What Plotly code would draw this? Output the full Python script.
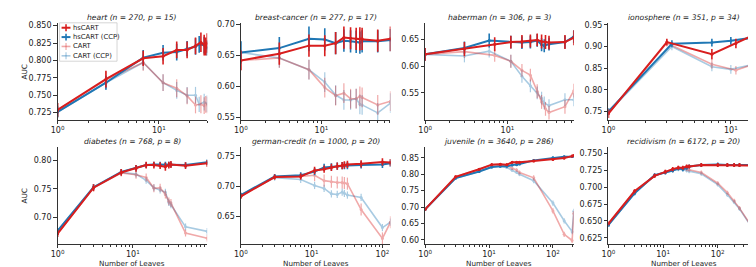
import math
import plotly.graph_objects as go

# ---------------- data ----------------
heart_x = [1, 3, 7, 11, 15, 19, 23, 26, 28, 29, 30]
heart_hs = [0.729, 0.773, 0.803, 0.806, 0.815, 0.815, 0.821, 0.826, 0.822, 0.820, 0.825]
heart_hs_err = [0.010, 0.012, 0.011, 0.012, 0.012, 0.012, 0.012, 0.014, 0.015, 0.013, 0.014]
heart_cart = [0.729, 0.772, 0.797, 0.768, 0.760, 0.749, 0.736, 0.737, 0.735, 0.737, 0.736]
heart_cart_err = [0.010, 0.012, 0.012, 0.012, 0.013, 0.012, 0.012, 0.013, 0.012, 0.012, 0.012]
heart_xccp = [1, 3, 7, 11, 15, 19, 23, 25, 28, 30]
heart_hsccp = [0.726, 0.768, 0.804, 0.811, 0.812, 0.817, 0.820, 0.823, 0.822, 0.818]
heart_hsccp_err = [0.008, 0.010, 0.011, 0.011, 0.012, 0.011, 0.012, 0.012, 0.012, 0.011]
heart_cartccp = [0.726, 0.768, 0.797, 0.768, 0.757, 0.750, 0.750, 0.737, 0.740, 0.738]
heart_cartccp_err = [0.008, 0.010, 0.011, 0.012, 0.012, 0.012, 0.012, 0.011, 0.012, 0.012]

breast_x = [1, 3, 7, 11, 15, 19, 23, 27, 30, 32, 50, 72]
breast_hs = [0.642, 0.653, 0.666, 0.666, 0.670, 0.679, 0.678, 0.677, 0.677, 0.677, 0.674, 0.677]
breast_hs_err = [0.016, 0.018, 0.018, 0.017, 0.018, 0.018, 0.018, 0.018, 0.019, 0.018, 0.018, 0.020]
breast_cart = [0.642, 0.646, 0.627, 0.598, 0.585, 0.589, 0.580, 0.580, 0.584, 0.582, 0.570, 0.576]
breast_cart_err = [0.016, 0.016, 0.016, 0.016, 0.016, 0.016, 0.016, 0.016, 0.016, 0.016, 0.016, 0.016]
breast_xccp = [1, 3, 7, 11, 15, 19, 23, 27, 30, 32, 50, 72]
breast_hsccp = [0.655, 0.662, 0.677, 0.676, 0.670, 0.674, 0.673, 0.672, 0.671, 0.673, 0.673, 0.675]
breast_hsccp_err = [0.018, 0.018, 0.020, 0.018, 0.018, 0.018, 0.018, 0.018, 0.018, 0.018, 0.018, 0.018]
breast_cartccp = [0.655, 0.646, 0.627, 0.607, 0.586, 0.578, 0.578, 0.580, 0.571, 0.570, 0.557, 0.573]
breast_cartccp_err = [0.018, 0.016, 0.016, 0.016, 0.016, 0.016, 0.016, 0.016, 0.016, 0.016, 0.016, 0.016]

haber_x = [1, 3, 7, 11, 15, 19, 23, 26, 29, 32, 50, 64]
haber_hs = [0.622, 0.632, 0.641, 0.645, 0.646, 0.647, 0.649, 0.646, 0.645, 0.644, 0.645, 0.653]
haber_hs_err = [0.012, 0.013, 0.013, 0.012, 0.012, 0.012, 0.012, 0.013, 0.013, 0.013, 0.013, 0.014]
haber_cart = [0.622, 0.627, 0.620, 0.609, 0.592, 0.583, 0.553, 0.533, 0.520, 0.513, 0.524, 0.554]
haber_cart_err = [0.012, 0.012, 0.012, 0.012, 0.012, 0.012, 0.013, 0.013, 0.013, 0.013, 0.013, 0.013]
haber_xccp = [1, 3, 6, 11, 15, 19, 23, 26, 28, 32, 50, 64]
haber_hsccp = [0.622, 0.634, 0.648, 0.645, 0.644, 0.645, 0.648, 0.640, 0.638, 0.641, 0.645, 0.655]
haber_hsccp_err = [0.012, 0.012, 0.013, 0.012, 0.012, 0.012, 0.012, 0.012, 0.012, 0.012, 0.012, 0.012]
haber_cartccp = [0.622, 0.619, 0.628, 0.609, 0.581, 0.563, 0.550, 0.540, 0.531, 0.526, 0.537, 0.537]
haber_cartccp_err = [0.012, 0.012, 0.012, 0.012, 0.012, 0.012, 0.012, 0.012, 0.012, 0.012, 0.012, 0.012]

iono_x = [1, 3, 7, 11, 15, 17]
iono_hs = [0.745, 0.910, 0.882, 0.907, 0.925, 0.930]
iono_hs_err = [0.010, 0.008, 0.012, 0.011, 0.010, 0.010]
iono_cart = [0.745, 0.908, 0.859, 0.845, 0.858, 0.870]
iono_cart_err = [0.010, 0.008, 0.010, 0.010, 0.010, 0.010]
iono_xccp = [1, 3.3, 7, 10, 15, 17]
iono_hsccp = [0.750, 0.906, 0.909, 0.913, 0.920, 0.924]
iono_hsccp_err = [0.008, 0.008, 0.009, 0.009, 0.009, 0.009]
iono_cartccp = [0.748, 0.900, 0.853, 0.847, 0.858, 0.880]
iono_cartccp_err = [0.008, 0.009, 0.010, 0.010, 0.010, 0.010]

diab_x = [1, 3, 7, 11, 15, 19, 23, 27, 30, 32, 50, 97]
diab_hs = [0.671, 0.752, 0.779, 0.786, 0.792, 0.792, 0.791, 0.789, 0.792, 0.793, 0.791, 0.795]
diab_hs_err = [0.006, 0.006, 0.006, 0.006, 0.006, 0.006, 0.006, 0.007, 0.006, 0.006, 0.006, 0.006]
diab_cart = [0.671, 0.752, 0.778, 0.775, 0.770, 0.751, 0.752, 0.740, 0.728, 0.725, 0.672, 0.663]
diab_cart_err = [0.006, 0.006, 0.006, 0.007, 0.007, 0.007, 0.007, 0.007, 0.007, 0.007, 0.006, 0.006]
diab_xccp = [1, 3, 7, 11, 15, 19, 23, 27, 30, 32, 50, 97]
diab_hsccp = [0.676, 0.753, 0.780, 0.787, 0.792, 0.793, 0.793, 0.793, 0.793, 0.793, 0.792, 0.797]
diab_hsccp_err = [0.005, 0.005, 0.005, 0.005, 0.005, 0.005, 0.005, 0.005, 0.005, 0.005, 0.005, 0.005]
diab_cartccp = [0.676, 0.753, 0.779, 0.776, 0.765, 0.752, 0.748, 0.744, 0.726, 0.722, 0.683, 0.675]
diab_cartccp_err = [0.005, 0.005, 0.006, 0.006, 0.006, 0.006, 0.006, 0.006, 0.006, 0.006, 0.006, 0.006]

german_x = [1, 3, 7, 11, 15, 19, 23, 27, 29, 32, 50, 100, 130]
german_hs = [0.683, 0.715, 0.716, 0.726, 0.728, 0.731, 0.733, 0.734, 0.735, 0.736, 0.737, 0.740, 0.739]
german_hs_err = [0.004, 0.004, 0.005, 0.006, 0.006, 0.006, 0.006, 0.006, 0.006, 0.006, 0.006, 0.006, 0.006]
german_cart = [0.683, 0.715, 0.716, 0.718, 0.709, 0.707, 0.706, 0.706, 0.705, 0.704, 0.661, 0.613, 0.640]
german_cart_err = [0.004, 0.005, 0.006, 0.010, 0.010, 0.010, 0.010, 0.010, 0.010, 0.010, 0.010, 0.010, 0.010]
german_xccp = [1, 3, 7, 11, 15, 19, 23, 27, 29, 32, 50, 100, 130]
german_hsccp = [0.685, 0.716, 0.718, 0.724, 0.731, 0.732, 0.733, 0.734, 0.734, 0.734, 0.735, 0.736, 0.738]
german_hsccp_err = [0.004, 0.004, 0.005, 0.006, 0.006, 0.006, 0.006, 0.006, 0.006, 0.006, 0.006, 0.006, 0.006]
german_cartccp = [0.685, 0.714, 0.711, 0.701, 0.696, 0.687, 0.686, 0.690, 0.688, 0.685, 0.681, 0.631, 0.640]
german_cartccp_err = [0.004, 0.005, 0.006, 0.006, 0.006, 0.006, 0.006, 0.006, 0.006, 0.006, 0.006, 0.006, 0.006]

juv_x = [1, 3, 7, 11, 15, 19, 23, 27, 30, 50, 100, 150, 200, 212]
juv_hs = [0.693, 0.792, 0.815, 0.829, 0.830, 0.829, 0.836, 0.836, 0.836, 0.840, 0.845, 0.849, 0.855, 0.857]
juv_hs_err = [0.004, 0.004, 0.004, 0.004, 0.004, 0.004, 0.004, 0.004, 0.004, 0.004, 0.004, 0.004, 0.004, 0.004]
juv_cart = [0.693, 0.792, 0.815, 0.829, 0.830, 0.827, 0.818, 0.813, 0.805, 0.789, 0.688, 0.617, 0.598, 0.680]
juv_cart_err = [0.004, 0.004, 0.004, 0.004, 0.004, 0.004, 0.005, 0.005, 0.006, 0.008, 0.008, 0.008, 0.008, 0.008]
juv_xccp = [1, 3, 7, 11, 15, 19, 23, 27, 30, 50, 100, 150, 200, 212]
juv_hsccp = [0.693, 0.788, 0.808, 0.822, 0.824, 0.824, 0.828, 0.829, 0.831, 0.842, 0.850, 0.853, 0.854, 0.855]
juv_hsccp_err = [0.004, 0.004, 0.004, 0.004, 0.004, 0.004, 0.004, 0.004, 0.004, 0.004, 0.004, 0.004, 0.004, 0.004]
juv_cartccp = [0.693, 0.788, 0.808, 0.822, 0.824, 0.820, 0.812, 0.806, 0.800, 0.780, 0.712, 0.658, 0.625, 0.687]
juv_cartccp_err = [0.004, 0.004, 0.004, 0.004, 0.004, 0.004, 0.005, 0.005, 0.006, 0.008, 0.008, 0.008, 0.008, 0.008]

recid_x = [1, 3, 7, 11, 15, 19, 23, 27, 30, 50, 100, 150, 200, 250, 400, 570]
recid_hs = [0.646, 0.694, 0.717, 0.723, 0.727, 0.729, 0.729, 0.731, 0.731, 0.733, 0.733, 0.733, 0.733, 0.733, 0.732, 0.732]
recid_hs_err = [0.003, 0.003, 0.003, 0.003, 0.003, 0.003, 0.003, 0.003, 0.003, 0.003, 0.003, 0.003, 0.003, 0.003, 0.003, 0.003]
recid_cart = [0.646, 0.694, 0.717, 0.723, 0.727, 0.729, 0.728, 0.727, 0.726, 0.722, 0.706, 0.692, 0.680, 0.669, 0.644, 0.626]
recid_cart_err = [0.003, 0.003, 0.003, 0.003, 0.003, 0.003, 0.003, 0.003, 0.003, 0.003, 0.003, 0.003, 0.003, 0.003, 0.003, 0.003]
recid_xccp = [1, 3, 7, 11, 15, 19, 23, 27, 30, 50, 100, 150, 200, 250, 400, 570]
recid_hsccp = [0.644, 0.691, 0.718, 0.722, 0.725, 0.728, 0.727, 0.729, 0.731, 0.733, 0.734, 0.733, 0.733, 0.733, 0.733, 0.733]
recid_hsccp_err = [0.003, 0.003, 0.003, 0.003, 0.003, 0.003, 0.003, 0.003, 0.003, 0.003, 0.003, 0.003, 0.003, 0.003, 0.003, 0.003]
recid_cartccp = [0.644, 0.691, 0.718, 0.722, 0.725, 0.727, 0.726, 0.725, 0.724, 0.720, 0.704, 0.689, 0.678, 0.668, 0.643, 0.626]
recid_cartccp_err = [0.003, 0.003, 0.003, 0.003, 0.003, 0.003, 0.003, 0.003, 0.003, 0.003, 0.003, 0.003, 0.003, 0.003, 0.003, 0.003]

titles = ["heart (n = 270, p = 15)", "breast-cancer (n = 277, p = 17)",
          "haberman (n = 306, p = 3)", "ionosphere (n = 351, p = 34)",
          "diabetes (n = 768, p = 8)", "german-credit (n = 1000, p = 20)",
          "juvenile (n = 3640, p = 286)", "recidivism (n = 6172, p = 20)"]
series_names = ["hsCART", "hsCART (CCP)", "CART", "CART (CCP)"]

y_ranges = [[0.714, 0.854], [0.545, 0.703], [0.4985, 0.681], [0.7295, 0.9545],
            [0.652, 0.824], [0.603, 0.765], [0.586, 0.883], [0.615, 0.760]]
y_ticks = [[0.725, 0.75, 0.775, 0.8, 0.825, 0.85], [0.55, 0.6, 0.65, 0.7],
           [0.55, 0.6, 0.65], [0.75, 0.8, 0.85, 0.9, 0.95],
           [0.7, 0.75, 0.8], [0.65, 0.7, 0.75],
           [0.6, 0.65, 0.7, 0.75, 0.8, 0.85], [0.625, 0.65, 0.675, 0.7, 0.725, 0.75]]
y_formats = [".3f", ".2f", ".2f", ".2f", ".2f", ".2f", ".2f", ".3f"]
x_tick_labels = {1: "10<sup>0</sup>", 10: "10<sup>1</sup>", 100: "10<sup>2</sup>"}

panels = [
    (heart_x, heart_hs, heart_hs_err, heart_cart, heart_cart_err, heart_xccp, heart_hsccp, heart_hsccp_err, heart_cartccp, heart_cartccp_err),
    (breast_x, breast_hs, breast_hs_err, breast_cart, breast_cart_err, breast_xccp, breast_hsccp, breast_hsccp_err, breast_cartccp, breast_cartccp_err),
    (haber_x, haber_hs, haber_hs_err, haber_cart, haber_cart_err, haber_xccp, haber_hsccp, haber_hsccp_err, haber_cartccp, haber_cartccp_err),
    (iono_x, iono_hs, iono_hs_err, iono_cart, iono_cart_err, iono_xccp, iono_hsccp, iono_hsccp_err, iono_cartccp, iono_cartccp_err),
    (diab_x, diab_hs, diab_hs_err, diab_cart, diab_cart_err, diab_xccp, diab_hsccp, diab_hsccp_err, diab_cartccp, diab_cartccp_err),
    (german_x, german_hs, german_hs_err, german_cart, german_cart_err, german_xccp, german_hsccp, german_hsccp_err, german_cartccp, german_cartccp_err),
    (juv_x, juv_hs, juv_hs_err, juv_cart, juv_cart_err, juv_xccp, juv_hsccp, juv_hsccp_err, juv_cartccp, juv_cartccp_err),
    (recid_x, recid_hs, recid_hs_err, recid_cart, recid_cart_err, recid_xccp, recid_hsccp, recid_hsccp_err, recid_cartccp, recid_cartccp_err),
]

# ---------------- style ----------------
W, H = 756, 267
RED = "#d81e1e"
BLUE = "#1f77b4"
FONT = "DejaVu Sans"
AX = "#333333"
col_px = [(43, 194), (228, 379), (414, 564), (599, 751)]
row_px = [(13, 112), (139, 238)]

fig = go.Figure()
layout = dict(width=W, height=H, margin=dict(l=0, r=0, t=0, b=0),
              paper_bgcolor="white", plot_bgcolor="white", showlegend=False,
              font=dict(family=FONT, size=8, color="#222"))
annotations = []
shapes = []

for i, p in enumerate(panels):
    xs, hs, hse, ca, cae, xc, hc, hce, cc, cce = p
    r, c = divmod(i, 4)
    k = "" if i == 0 else str(i + 1)
    xa, ya = "x" + k, "y" + k
    xmax = max(max(xs), max(xc))
    # order: light CART lines first, hsCART on top
    specs = [
        (xc, cc, cce, BLUE, 0.38, 1.6, 1.2, 3),
        (xs, ca, cae, RED, 0.38, 1.6, 1.2, 3),
        (xc, hc, hce, BLUE, 1.0, 2.0, 1.6, 3),
        (xs, hs, hse, RED, 1.0, 2.0, 1.6, 3),
    ]
    for (xx, yy, ee, col, op, lw, ew, ms) in specs:
        fig.add_trace(go.Scatter(
            x=xx, y=yy, mode="lines+markers", xaxis=xa, yaxis=ya,
            opacity=op, line=dict(color=col, width=lw),
            marker=dict(color=col, size=ms),
            error_y=dict(type="data", array=ee, visible=True, color=col,
                         thickness=ew, width=0),
            hoverinfo="skip"))
    x0, x1 = col_px[c]
    y0, y1 = row_px[r]
    majors = [v for v in [1, 10, 100] if v <= xmax * 1.0001]
    minors = [m * d for d in [1, 10, 100] for m in range(2, 10) if m * d <= xmax]
    layout["xaxis" + k] = dict(
        domain=[x0 / W, x1 / W], anchor=ya, type="log",
        range=[0, math.log10(xmax)], showgrid=False, zeroline=False,
        showline=True, linecolor=AX, linewidth=1, ticks="outside",
        ticklen=3, tickwidth=1, tickcolor=AX, ticklabelstandoff=-1,
        tickmode="array", tickvals=majors,
        ticktext=[x_tick_labels[v] for v in majors],
        tickfont=dict(size=8, family=FONT, color="#222"),
        minor=dict(tickmode="array", tickvals=minors, ticks="outside",
                   ticklen=2, tickwidth=0.7, tickcolor=AX, showgrid=False))
    layout["yaxis" + k] = dict(
        domain=[1 - y1 / H, 1 - y0 / H], anchor=xa, range=y_ranges[i],
        showgrid=False, zeroline=False, showline=True, linecolor=AX,
        linewidth=1, ticks="outside", ticklen=3.5, tickwidth=1, tickcolor=AX,
        tickmode="array", tickvals=y_ticks[i], tickformat=y_formats[i],
        tickfont=dict(size=8, family=FONT, color="#222"))
    annotations.append(dict(
        text="<i>" + titles[i] + "</i>", xref=xa + " domain", yref=ya + " domain",
        x=0.5, y=1, xanchor="center", yanchor="bottom", yshift=-1, showarrow=False,
        font=dict(size=7.6, family=FONT, color="#222")))
    if r == 1:
        annotations.append(dict(
            text="Number of Leaves", xref=xa + " domain", yref="paper",
            x=0.5, y=1 - 257.5 / H, xanchor="center", yanchor="middle", showarrow=False,
            borderpad=0, font=dict(size=7.2, family=FONT, color="#222")))
    if c == 0:
        annotations.append(dict(
            text="AUC", xref="paper", yref="paper", x=10 / W,
            y=1 - (y0 + y1) / 2 / H, xanchor="center", yanchor="middle",
            textangle=-90, showarrow=False,
            font=dict(size=7.3, family=FONT, color="#222")))

# ---------------- legend (drawn inside the heart panel) ----------------
lx0, lx1 = 45, 103
ly0, ly1 = 13, 52
shapes.append(dict(type="rect", xref="paper", yref="paper",
                   x0=lx0 / W, x1=lx1 / W, y0=1 - ly1 / H, y1=1 - ly0 / H,
                   line=dict(color="#cccccc", width=0.8), fillcolor="rgba(255,255,255,0.85)"))
leg_styles = [(RED, 1.0, 2.0), (BLUE, 1.0, 2.0), (RED, 0.38, 1.6), (BLUE, 0.38, 1.6)]
for j, name in enumerate(series_names):
    yy = 18 + j * 9.5
    col, op, lw = leg_styles[j]
    shapes.append(dict(type="line", xref="paper", yref="paper",
                       x0=47 / W, x1=56 / W, y0=1 - yy / H, y1=1 - yy / H,
                       line=dict(color=col, width=lw), opacity=op))
    shapes.append(dict(type="line", xref="paper", yref="paper",
                       x0=51.5 / W, x1=51.5 / W, y0=1 - (yy + 3.5) / H, y1=1 - (yy - 3.5) / H,
                       line=dict(color=col, width=lw - 0.4), opacity=op))
    annotations.append(dict(
        text=name, xref="paper", yref="paper", x=57 / W, y=1 - yy / H,
        xanchor="left", yanchor="middle", showarrow=False,
        font=dict(size=6.8, family=FONT, color="#222")))

layout["annotations"] = annotations
layout["shapes"] = shapes
fig.update_layout(**layout)
fig.write_html("out.html")
